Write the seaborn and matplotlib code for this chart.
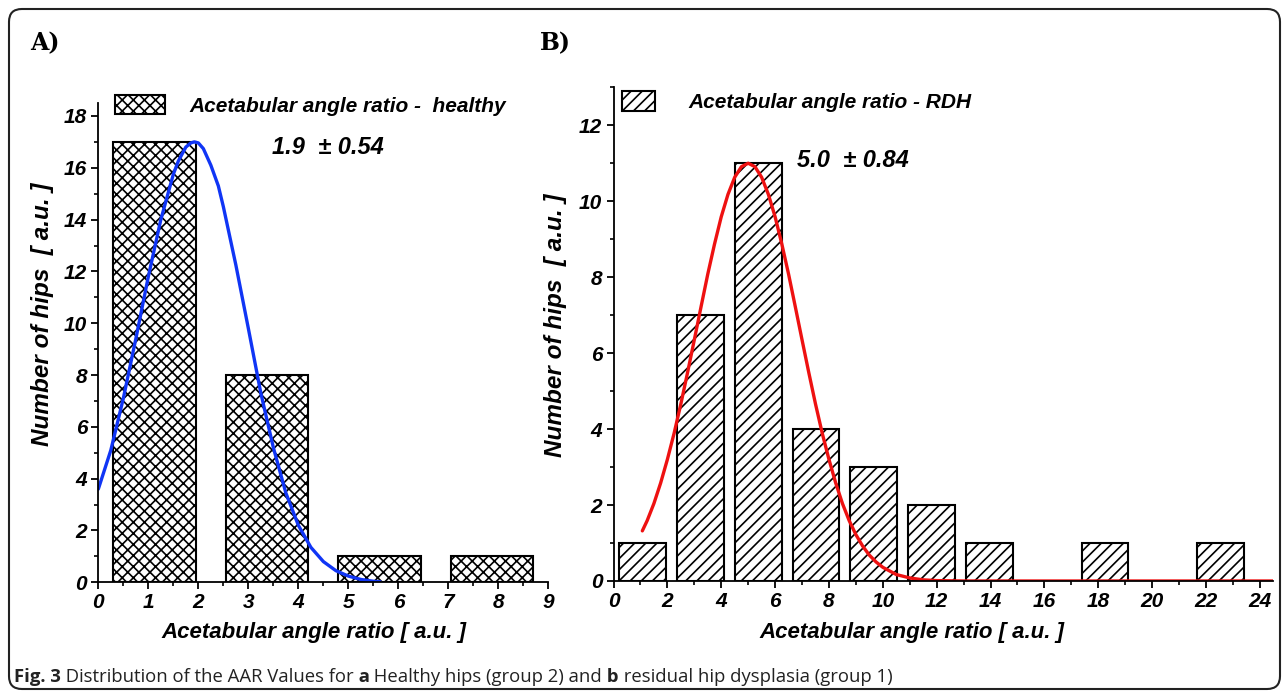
"""Distribution of the acetabular angle ratio (AAR): healthy hips vs RDH."""

import matplotlib
matplotlib.use("Agg")
import matplotlib.pyplot as plt
from matplotlib.patches import Patch, FancyBboxPatch
from matplotlib.ticker import MultipleLocator
import seaborn as sns

# ---------------------------------------------------------------------------
# Data
# ---------------------------------------------------------------------------
# A) healthy hips (group 2)
healthy_bins = [1.125, 3.375, 5.625, 7.875]
healthy_counts = [17, 8, 1, 1]
healthy_fit_x = [0.0, 0.25, 0.5, 0.75, 1.0, 1.25, 1.5, 1.6, 1.75, 1.85, 1.92,
                 2.0, 2.1, 2.25, 2.4, 2.5, 2.75, 3.0, 3.25, 3.5, 3.75, 4.0,
                 4.25, 4.5, 4.75, 5.0, 5.25, 5.5, 5.64]
healthy_fit_y = [3.6, 5.1, 7.1, 9.4, 11.8, 14.0, 15.75, 16.26, 16.8, 16.96, 17.0,
                 16.96, 16.74, 16.1, 15.3, 14.5, 12.25, 9.8, 7.3, 5.2, 3.45, 2.2,
                 1.35, 0.8, 0.45, 0.24, 0.11, 0.04, 0.02]
healthy_stat = "1.9  \u00b1 0.54"

# B) residual hip dysplasia (group 1)
rdh_bins = [1.08, 3.22, 5.37, 7.52, 9.66, 11.81, 13.96, 18.25, 22.55]
rdh_counts = [1, 7, 11, 4, 3, 2, 1, 1, 1]
rdh_fit_x = [1.07, 1.25, 1.5, 1.75, 2.0, 2.25, 2.5, 2.75, 3.0, 3.25, 3.5, 3.75,
             4.0, 4.25, 4.5, 4.75, 5.0, 5.25, 5.5, 5.75, 6.0, 6.25, 6.5, 6.75,
             7.0, 7.25, 7.5, 7.75, 8.0, 8.25, 8.5, 8.75, 9.0, 9.25, 9.5, 9.75,
             10.0, 10.5, 11.0, 11.5, 12.0, 13.0, 24.5]
rdh_fit_y = [1.32, 1.59, 2.04, 2.58, 3.2, 3.89, 4.66, 5.49, 6.35, 7.22, 8.08,
             8.87, 9.59, 10.18, 10.63, 10.91, 11.0, 10.91, 10.63, 10.18, 9.59,
             8.87, 8.08, 7.22, 6.35, 5.49, 4.66, 3.89, 3.2, 2.58, 2.04, 1.59,
             1.22, 0.92, 0.68, 0.5, 0.36, 0.17, 0.08, 0.03, 0.01, 0.0, 0.0]
rdh_stat = "5.0  \u00b1 0.84"

caption_parts = [("Fig. 3", "bold"), (" Distribution of the AAR Values for", "normal"),
                 (" a", "bold"), (" Healthy hips (group 2) and", "normal"),
                 (" b", "bold"), (" residual hip dysplasia (group 1)", "normal")]

# ---------------------------------------------------------------------------
sns.set_theme(style="ticks")
NARROW = ["Liberation Sans Narrow", "Liberation Sans", "DejaVu Sans"]
plt.rcParams["font.family"] = NARROW
plt.rcParams["hatch.linewidth"] = 1.2
plt.rcParams["axes.linewidth"] = 1.3
for key in ("text.color", "axes.labelcolor", "axes.edgecolor",
            "xtick.color", "ytick.color"):
    plt.rcParams[key] = "black"

fig = plt.figure(figsize=(12.87, 6.91), dpi=100)
fig.patch.set_facecolor("white")

ax_a = fig.add_axes([0.0764, 0.1573, 0.3497, 0.6936])
ax_b = fig.add_axes([0.4767, 0.1592, 0.5127, 0.7145])

bar_kw = dict(color="white", edgecolor="black", linewidth=1.5,
              native_scale=True, errorbar=None)

sns.barplot(x=healthy_bins, y=healthy_counts, width=0.733, hatch="xxx",
            ax=ax_a, **bar_kw)
sns.lineplot(x=healthy_fit_x, y=healthy_fit_y, color="#1035f5", linewidth=2.4,
             ax=ax_a, sort=False)

sns.barplot(x=rdh_bins, y=rdh_counts, width=0.813, hatch="///",
            ax=ax_b, **bar_kw)
sns.lineplot(x=rdh_fit_x, y=rdh_fit_y, color="#ee1111", linewidth=2.4,
             ax=ax_b, sort=False)


def style_axis(ax, xlim, ylim, xmaj, xmin, ymaj, ymin):
    ax.set_xlim(*xlim)
    ax.set_ylim(*ylim)
    ax.xaxis.set_major_locator(MultipleLocator(xmaj))
    ax.xaxis.set_minor_locator(MultipleLocator(xmin))
    ax.yaxis.set_major_locator(MultipleLocator(ymaj))
    ax.yaxis.set_minor_locator(MultipleLocator(ymin))
    ax.tick_params(which="major", direction="out", length=5, width=1.3,
                   labelsize=15, pad=3, colors="black")
    ax.tick_params(which="minor", direction="out", length=3, width=1.2)
    sns.despine(ax=ax)
    ax.set_facecolor("white")
    ax.set_xlabel("Acetabular angle ratio [ a.u. ]", fontsize=16,
                  fontweight="bold", fontstyle="italic")
    ax.set_ylabel("Number of hips  [ a.u. ]", fontsize=17.5,
                  fontweight="bold", fontstyle="italic")


style_axis(ax_a, (0, 9), (0, 18.5), 1, 0.5, 2, 1)
style_axis(ax_b, (0, 24.5), (0, 13), 2, 1, 2, 1)
ax_a.set_xticks(range(0, 10))
ax_b.set_xticks(range(0, 25, 2))
for ax in (ax_a, ax_b):
    for lab in ax.get_xticklabels() + ax.get_yticklabels():
        lab.set_fontweight("bold")
        lab.set_fontstyle("italic")

ax_a.xaxis.set_label_coords(0.48, -0.083)
ax_a.yaxis.set_label_coords(-0.098, 0.56)
ax_b.xaxis.set_label_coords(0.452, -0.083)
ax_b.yaxis.set_label_coords(-0.07, 0.518)

# fit statistics
ax_a.text(3.47, 16.77, healthy_stat, fontsize=17, fontweight="bold",
          fontstyle="italic", va="center", ha="left")
ax_b.text(6.8, 11.06, rdh_stat, fontsize=17, fontweight="bold",
          fontstyle="italic", va="center", ha="left")

# legends
leg_prop = dict(family=NARROW, weight="bold", style="italic", size=15)
ax_a.legend(handles=[Patch(facecolor="white", edgecolor="black",
                           hatch="xxx", linewidth=1.5)],
            labels=["Acetabular angle ratio -  healthy"],
            loc="upper left", bbox_to_anchor=(0.0894, 0.8625),
            bbox_transform=fig.transFigure, frameon=False,
            borderpad=0, borderaxespad=0, handlelength=2.4,
            handleheight=1.05, handletextpad=1.15, prop=leg_prop)
ax_b.legend(handles=[Patch(facecolor="white", edgecolor="black",
                           hatch="///", linewidth=1.5)],
            labels=["Acetabular angle ratio - RDH"],
            loc="upper left", bbox_to_anchor=(0.4833, 0.868),
            bbox_transform=fig.transFigure, frameon=False,
            borderpad=0, borderaxespad=0, handlelength=1.6,
            handleheight=1.1, handletextpad=1.6, prop=leg_prop)

# panel letters
fig.text(30 / 1287, 1 - 50 / 691, "A)", fontsize=17, fontweight="bold",
         family="DejaVu Serif")
fig.text(540 / 1287, 1 - 50 / 691, "B)", fontsize=17, fontweight="bold",
         family="DejaVu Serif")

# rounded outer frame
fig.patches.append(FancyBboxPatch((9 / 1287, 2 / 691), 1271 / 1287, 680 / 691,
                                  boxstyle="round,pad=0,rounding_size=0.01",
                                  mutation_aspect=1287 / 691,
                                  transform=fig.transFigure, fill=False,
                                  edgecolor="#222222", linewidth=1.5))

# caption with bold fragments
renderer = fig.canvas.get_renderer()
x = 14 / 1287
for txt, weight in caption_parts:
    t = fig.text(x, 1 - 682 / 691, txt, fontsize=13.3, fontweight=weight,
                 family=["Open Sans", "DejaVu Sans"], color="#222222",
                 va="baseline")
    bb = t.get_window_extent(renderer)
    x = bb.x1 / fig.bbox.width

fig.savefig("out.png", dpi=100)
